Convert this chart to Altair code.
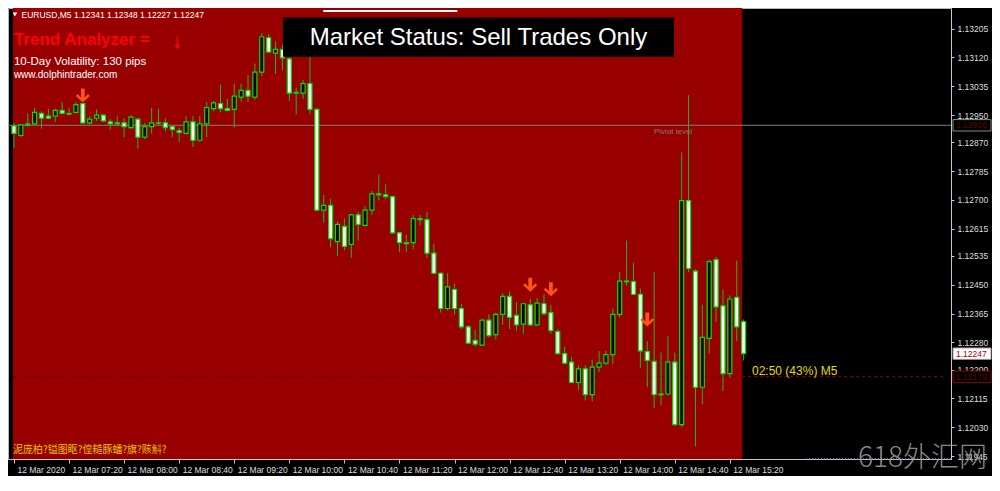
import altair as alt
import pandas as pd

# ---------------- data ----------------
opens = [1.12918, 1.12890, 1.12921, 1.12924, 1.12955, 1.12947, 1.12947, 1.12964, 1.12955, 1.12958,
         1.12984, 1.12927, 1.12941, 1.12950, 1.12930, 1.12927, 1.12927, 1.12913, 1.12938, 1.12885,
         1.12916, 1.12927, 1.12927, 1.12916, 1.12904, 1.12896, 1.12930, 1.12876, 1.12924, 1.12969,
         1.12984, 1.12969, 1.12967, 1.13003, 1.13023, 1.13003, 1.13077, 1.13178, 1.13133, 1.13144,
         1.13116, 1.13017, 1.13015, 1.13043, 1.12967, 1.12670, 1.12684, 1.12577, 1.12622, 1.12569,
         1.12656, 1.12625, 1.12670, 1.12718, 1.12715, 1.12710, 1.12603, 1.12574, 1.12574, 1.12645,
         1.12642, 1.12543, 1.12484, 1.12380, 1.12436, 1.12380, 1.12326, 1.12286, 1.12272, 1.12346,
         1.12303, 1.12363, 1.12416, 1.12360, 1.12334, 1.12391, 1.12332, 1.12394, 1.12368, 1.12312,
         1.12247, 1.12222, 1.12162, 1.12202, 1.12126, 1.12207, 1.12219, 1.12244, 1.12363, 1.12461,
         1.12459, 1.12422, 1.12253, 1.12224, 1.12128, 1.12128, 1.12222, 1.12038, 1.12698, 1.12490,
         1.12148, 1.12292, 1.12524, 1.12388, 1.12188, 1.12413, 1.12341]
highs = [1.12927, 1.12924, 1.12955, 1.12972, 1.12961, 1.12969, 1.12969, 1.12989, 1.12972, 1.12989,
         1.12986, 1.12947, 1.12967, 1.12952, 1.12938, 1.12947, 1.12941, 1.12950, 1.12941, 1.12927,
         1.12972, 1.12969, 1.12941, 1.12921, 1.12913, 1.12947, 1.12947, 1.12947, 1.12989, 1.12992,
         1.13040, 1.12998, 1.13043, 1.13043, 1.13068, 1.13102, 1.13192, 1.13189, 1.13167, 1.13158,
         1.13122, 1.13031, 1.13054, 1.13130, 1.12972, 1.12715, 1.12704, 1.12636, 1.12645, 1.12659,
         1.12665, 1.12682, 1.12727, 1.12775, 1.12746, 1.12713, 1.12605, 1.12597, 1.12656, 1.12656,
         1.12665, 1.12571, 1.12487, 1.12484, 1.12453, 1.12394, 1.12332, 1.12317, 1.12348, 1.12363,
         1.12368, 1.12425, 1.12430, 1.12399, 1.12396, 1.12408, 1.12411, 1.12422, 1.12391, 1.12320,
         1.12267, 1.12238, 1.12213, 1.12213, 1.12230, 1.12255, 1.12255, 1.12380, 1.12487, 1.12580,
         1.12515, 1.12439, 1.12284, 1.12487, 1.12250, 1.12298, 1.12250, 1.12840, 1.13009, 1.12495,
         1.12391, 1.12524, 1.12532, 1.12436, 1.12419, 1.12521, 1.12348]
lows = [1.12854, 1.12885, 1.12916, 1.12921, 1.12910, 1.12938, 1.12930, 1.12952, 1.12950, 1.12955,
        1.12924, 1.12921, 1.12933, 1.12930, 1.12907, 1.12918, 1.12885, 1.12910, 1.12851, 1.12879,
        1.12896, 1.12921, 1.12902, 1.12885, 1.12871, 1.12893, 1.12856, 1.12871, 1.12885, 1.12961,
        1.12958, 1.12961, 1.12913, 1.12989, 1.12989, 1.12995, 1.13065, 1.13133, 1.13071, 1.13082,
        1.12992, 1.12952, 1.12998, 1.12952, 1.12667, 1.12634, 1.12560, 1.12535, 1.12552, 1.12529,
        1.12580, 1.12622, 1.12656, 1.12698, 1.12704, 1.12600, 1.12546, 1.12546, 1.12555, 1.12625,
        1.12529, 1.12481, 1.12368, 1.12374, 1.12363, 1.12320, 1.12275, 1.12267, 1.12270, 1.12295,
        1.12289, 1.12332, 1.12320, 1.12315, 1.12306, 1.12329, 1.12329, 1.12360, 1.12306, 1.12244,
        1.12216, 1.12159, 1.12140, 1.12109, 1.12106, 1.12193, 1.12213, 1.12216, 1.12354, 1.12447,
        1.12419, 1.12205, 1.12148, 1.12086, 1.12095, 1.12123, 1.12035, 1.12030, 1.12487, 1.11973,
        1.12097, 1.12247, 1.12340, 1.12137, 1.12176, 1.12284, 1.12227]
closes = [1.12896, 1.12921, 1.12924, 1.12958, 1.12941, 1.12941, 1.12964, 1.12955, 1.12953, 1.12981,
          1.12927, 1.12938, 1.12950, 1.12933, 1.12924, 1.12924, 1.12916, 1.12944, 1.12885, 1.12916,
          1.12927, 1.12926, 1.12913, 1.12907, 1.12899, 1.12930, 1.12876, 1.12924, 1.12972, 1.12986,
          1.12969, 1.12964, 1.13006, 1.13023, 1.13006, 1.13077, 1.13181, 1.13136, 1.13144, 1.13119,
          1.13015, 1.13015, 1.13043, 1.12967, 1.12670, 1.12684, 1.12586, 1.12628, 1.12563, 1.12656,
          1.12628, 1.12670, 1.12718, 1.12715, 1.12710, 1.12603, 1.12574, 1.12571, 1.12645, 1.12642,
          1.12543, 1.12484, 1.12380, 1.12444, 1.12380, 1.12326, 1.12278, 1.12275, 1.12346, 1.12300,
          1.12363, 1.12416, 1.12354, 1.12332, 1.12394, 1.12332, 1.12396, 1.12365, 1.12315, 1.12247,
          1.12219, 1.12162, 1.12202, 1.12126, 1.12207, 1.12219, 1.12244, 1.12363, 1.12461, 1.12459,
          1.12422, 1.12255, 1.12227, 1.12126, 1.12126, 1.12222, 1.12038, 1.12698, 1.12498, 1.12148,
          1.12295, 1.12518, 1.12385, 1.12188, 1.12408, 1.12326, 1.12247]

time_tick_bars = [0, 8, 16, 24, 32, 40, 48, 56, 64, 72, 80, 88, 96, 104]
time_tick_labels = ["12 Mar 2020", "12 Mar 07:20", "12 Mar 08:00", "12 Mar 08:40", "12 Mar 09:20",
                    "12 Mar 10:00", "12 Mar 10:40", "12 Mar 11:20", "12 Mar 12:00", "12 Mar 12:40",
                    "12 Mar 13:20", "12 Mar 14:00", "12 Mar 14:40", "12 Mar 15:20"]
price_ticks = [1.13205, 1.13120, 1.13035, 1.12950, 1.12870, 1.12785, 1.12700, 1.12615,
               1.12535, 1.12450, 1.12365, 1.12280, 1.12200, 1.12115, 1.12030, 1.11945]

pivot_price = 1.12920
stop_price = 1.12179
arrow_bars = [10, 75, 78, 92]
arrow_prices = [1.13008, 1.12450, 1.12437, 1.12348]
red_zone = [-0.14, 105.8]
x_domain = [-0.14, 135.4]
y_domain = [1.119365, 1.132657]

symbol = "EURUSD,M5"
volatility_text = "10-Day Volatility: 130 pips"
site_text = "www.dolphintrader.com"
status_text = "Market Status: Sell Trades Only"
timer_text = "02:50 (43%) M5"
garbled_text = "泥庞柏?镒图眍?偟糙豚蟠?旗?赅斛?"
watermark = "618外汇网"

# ---------------- layout ----------------
W, H = 943, 451
FONT = "Liberation Sans"
AX = "#c8c8c8"
LBL = "#dedede"

xs = alt.Scale(domain=x_domain, nice=False, zero=False)
ys = alt.Scale(domain=y_domain, nice=False, zero=False)

label_js = "[" + ",".join("'" + t + "'" for t in time_tick_labels) + "]"
x_axis = alt.Axis(values=time_tick_bars, labelExpr=label_js + "[round(datum.value/8)]",
                  title=None, orient="bottom", grid=False, tickSize=4, tickColor=AX,
                  domainColor=AX, labelColor=LBL, labelFont=FONT, labelFontSize=8.5,
                  labelAlign="left", labelOffset=3, labelPadding=2, labelFlush=False,
                  labelOverlap=False, labelBound=False)
y_axis = alt.Axis(values=price_ticks, format=".5f", title=None, orient="right", grid=False,
                  tickSize=3, tickColor=AX, domainColor=AX, labelColor=LBL, labelFont=FONT,
                  labelFontSize=8.5, labelPadding=3, labelFlush=False, labelOverlap=False,
                  labelBound=False)

X = lambda f: alt.X(f, scale=xs, axis=x_axis)
Y = lambda f: alt.Y(f, scale=ys, axis=y_axis)

n = len(opens)
df = pd.DataFrame({"bar": list(range(n)), "open": opens, "high": highs, "low": lows, "close": closes})
df["side"] = ["up" if c > o else "down" for o, c in zip(opens, closes)]

zone = pd.DataFrame({"x0": [red_zone[0]], "x1": [red_zone[1]]})
bg = alt.Chart(zone).mark_rect(color="#980000", clip=True).encode(
    x=X("x0:Q"), x2="x1:Q", y=alt.value(0), y2=alt.value(H))

pivot = alt.Chart(pd.DataFrame({"p": [pivot_price]})).mark_rule(color="#7c7c7c", strokeWidth=1).encode(
    y=Y("p:Q"), x=alt.value(0), x2=alt.value(W))

stop_df = pd.DataFrame({"x0": [x_domain[0], red_zone[1]], "x1": [red_zone[1], x_domain[1]],
                        "p": [stop_price, stop_price], "seg": ["a", "b"]})
stop = alt.Chart(stop_df).mark_rule(strokeWidth=1, strokeDash=[3, 3]).encode(
    x=X("x0:Q"), x2="x1:Q", y=Y("p:Q"),
    color=alt.Color("seg:N", scale=alt.Scale(domain=["a", "b"], range=["#600000", "#a00000"]), legend=None))

wicks = alt.Chart(df).mark_rule(color="#22b522", strokeWidth=1).encode(
    x=X("bar:Q"), y=Y("low:Q"), y2="high:Q")

bodies = alt.Chart(df).mark_bar(size=4, stroke="#00e400", strokeWidth=1.2).encode(
    x=X("bar:Q"), y=Y("open:Q"), y2="close:Q",
    fill=alt.Fill("side:N", scale=alt.Scale(domain=["up", "down"], range=["#000000", "#ffffff"]), legend=None))

ARROW = "M -0.27 -1 L 0.27 -1 L 0.27 0.3 L 0.75 -0.2 L 1 0.08 L 0 1 L -1 0.08 L -0.75 -0.2 L -0.27 0.3 Z"
arrows = alt.Chart(pd.DataFrame({"bar": arrow_bars, "p": arrow_prices})).mark_point(
    shape=ARROW, size=196, filled=True, color="#ff5414", opacity=1, strokeWidth=0).encode(
    x=X("bar:Q"), y=Y("p:Q"))

one = pd.DataFrame({"a": [0]})

def txt(text, x, y, **kw):
    return alt.Chart(one).mark_text(text=text, **kw).encode(x=alt.value(x), y=alt.value(y))

header_text = symbol + "  " + " ".join(f"{v:.5f}" for v in (opens[-1], highs[-1], lows[-1], closes[-1]))
tri = alt.Chart(one).mark_point(shape="triangle-down", size=22, filled=True, color="white", opacity=1).encode(
    x=alt.value(6.9), y=alt.value(6.5))
header = txt(header_text, 13.5, 7, align="left", baseline="middle", font=FONT, fontSize=8.5, color="white")
trend = txt("Trend Analyzer =", 5.9, 32, align="left", baseline="middle", font=FONT, fontSize=17,
            fontWeight="bold", color="#ff0000")
RED_ARROW = "M -0.1 -1 L 0.1 -1 L 0.1 0.25 L 0.5 0.25 L 0 1 L -0.5 0.25 L -0.1 0.25 Z"
red_arrow = alt.Chart(one).mark_point(shape=RED_ARROW, size=169, filled=True, color="#ff0000",
                                      opacity=1, strokeWidth=0).encode(x=alt.value(169.5), y=alt.value(35))
vol = txt(volatility_text, 5.9, 54, align="left", baseline="middle", font=FONT, fontSize=11.5, color="white")
site = txt(site_text, 5.9, 66.5, align="left", baseline="middle", font=FONT, fontSize=10, color="white")

status_box = alt.Chart(one).mark_rect(color="black").encode(
    x=alt.value(275), x2=alt.value(666), y=alt.value(9.6), y2=alt.value(48.8))
status = txt(status_text, 470.5, 30, align="center", baseline="middle", font=FONT, fontSize=24, color="white")
top_line = alt.Chart(one).mark_rule(color="white", strokeWidth=2).encode(
    x=alt.value(315.3), x2=alt.value(449.3), y=alt.value(2.9))

piviot = alt.Chart(pd.DataFrame({"p": [pivot_price]})).mark_text(
    text="Piviot level", align="left", baseline="middle", dy=6.5, font=FONT, fontSize=8, color="#8a7676").encode(
    x=alt.value(646), y=Y("p:Q"))

timer = alt.Chart(pd.DataFrame({"p": [stop_price]})).mark_text(
    text=timer_text, align="left", baseline="alphabetic", dy=-2, font=FONT, fontSize=12, color="#e0dc00").encode(
    x=alt.value(744), y=Y("p:Q"))

garbled = txt(garbled_text, 4.9, 441.5, align="left", baseline="middle", font="Noto Sans CJK SC",
              fontSize=10, color="#e8c400")

# price tags on the right axis
tags = pd.DataFrame({"p": [pivot_price, closes[-1], stop_price],
                     "kind": ["pivot", "bid", "stop"]})
BOX = "M -1 -0.3 L 1 -0.3 L 1 0.3 L -1 0.3 Z"
tag_boxes = alt.Chart(tags).mark_point(shape=BOX, size=1444, filled=True, opacity=1, strokeWidth=1).encode(
    x=alt.value(W + 21), y=Y("p:Q"),
    fill=alt.Fill("kind:N", scale=alt.Scale(domain=["pivot", "bid", "stop"],
                                            range=["#5e5e5e", "#ffffff", "#930000"]), legend=None),
    stroke=alt.Stroke("kind:N", scale=alt.Scale(domain=["pivot", "bid", "stop"],
                                                range=["#8a8a8a", "#9a9a9a", "#930000"]), legend=None))
tag_text = alt.Chart(tags).mark_text(align="left", baseline="middle", font=FONT, fontSize=8.5).encode(
    x=alt.value(W + 5), y=Y("p:Q"), text=alt.Text("p:Q", format=".5f"),
    color=alt.Color("kind:N", scale=alt.Scale(domain=["pivot", "bid", "stop"],
                                              range=["#c8c8c8", "#000000", "#4a0000"]), legend=None))

wm_line = alt.Chart(one).mark_rule(color="#55a8d8", strokeWidth=1.5, strokeDash=[1, 2]).encode(
    x=alt.value(798), x2=alt.value(W), y=alt.value(H))
wm = txt(watermark, 850, 451, align="left", baseline="middle", font="Noto Sans CJK SC", fontSize=28,
         fontWeight=300, color="#a0a0a0", opacity=0.85)

chart = alt.layer(
    bg, pivot, stop, wicks, bodies, arrows, tri, header, trend, red_arrow, vol, site,
    status_box, status, top_line, piviot, timer, garbled, tag_boxes, tag_text, wm_line, wm
).properties(
    width=W, height=H,
    autosize=alt.AutoSizeParams(type="none"),
    padding={"left": 0, "top": 0, "right": 41, "bottom": 17},
    background="black",
).configure_view(stroke="#b8b8b8", strokeWidth=1, fill="black")

chart.save("out.html", embed_options={"renderer": "svg", "actions": False})
